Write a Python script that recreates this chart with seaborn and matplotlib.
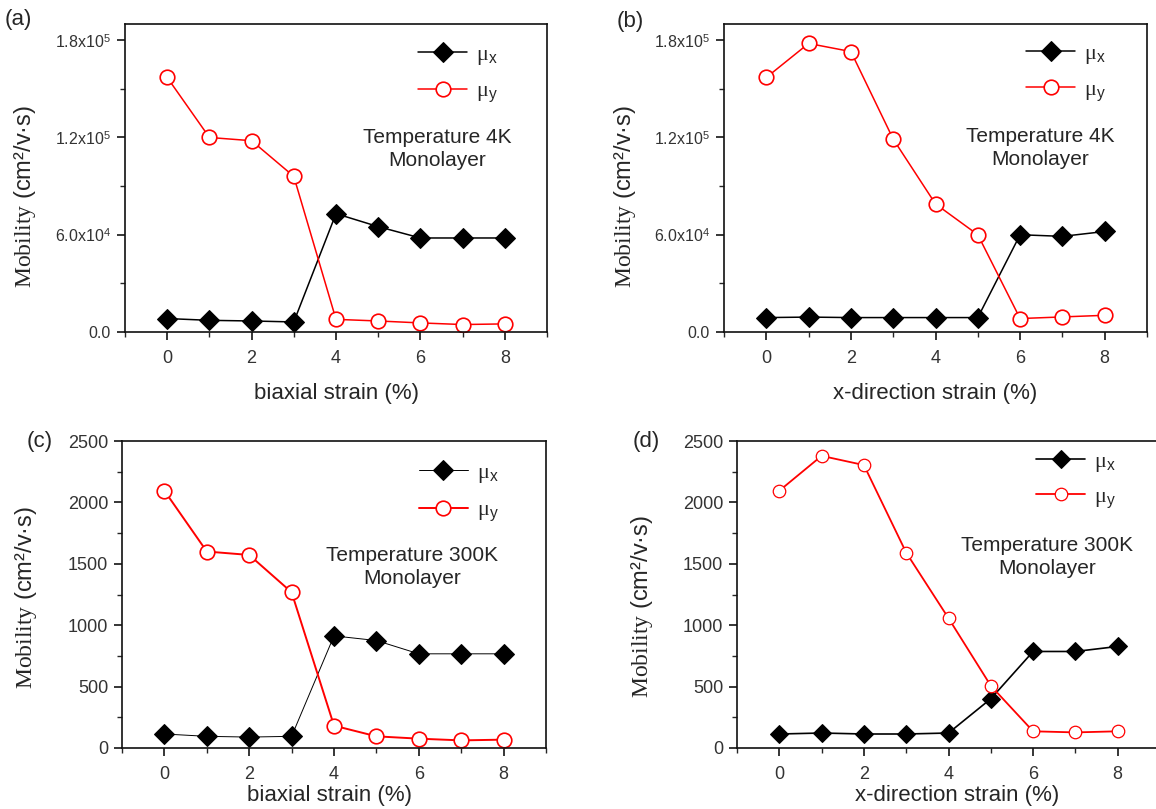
import numpy as np
import matplotlib
matplotlib.use("Agg")
import matplotlib.pyplot as plt
from matplotlib.ticker import MultipleLocator, FixedLocator, FixedFormatter
import seaborn as sns

# ---------------- data ----------------
strain = [0, 1, 2, 3, 4, 5, 6, 7, 8]

# (a) biaxial strain, 4K
a_mu_x = [8.3e3, 7.2e3, 6.8e3, 6.2e3, 7.3e4, 6.5e4, 5.8e4, 5.8e4, 5.8e4]
a_mu_y = [1.57e5, 1.20e5, 1.18e5, 9.6e4, 7.8e3, 6.8e3, 5.6e3, 4.6e3, 5.0e3]

# (b) x-direction strain, 4K
b_mu_x = [8.9e3, 9.2e3, 8.9e3, 8.9e3, 8.9e3, 8.9e3, 6.0e4, 5.9e4, 6.2e4]
b_mu_y = [1.57e5, 1.78e5, 1.73e5, 1.19e5, 7.9e4, 6.0e4, 8.3e3, 9.3e3, 1.03e4]

# (c) biaxial strain, 300K
c_mu_x = [114, 95, 89, 95, 913, 875, 767, 767, 767]
c_mu_y = [2095, 1600, 1572, 1268, 182, 95, 76, 62, 68]

# (d) x-direction strain, 300K
d_mu_x = [114, 122, 114, 114, 122, 401, 786, 786, 827]
d_mu_y = [2095, 2379, 2304, 1591, 1057, 507, 136, 127, 136]

panel_letters = ["(a)", "(b)", "(c)", "(d)"]
xlabels = ["biaxial strain (%)", "x-direction strain (%)",
           "biaxial strain (%)", "x-direction strain (%)"]
notes = ["Temperature 4K\nMonolayer", "Temperature 4K\nMonolayer",
         "Temperature 300K\nMonolayer", "Temperature 300K\nMonolayer"]
legend_labels = [r"$\mathrm{\mu}_{\mathsf{x}}$", r"$\mathrm{\mu}_{\mathsf{y}}$"]
ylabel = r"$\mathrm{Mobility}$ (cm²/v·s)"

sci_ticks = [0, 6e4, 1.2e5, 1.8e5]
sci_labels = ["0.0", r"6.0x10$^{\mathsf{4}}$", r"1.2x10$^{\mathsf{5}}$", r"1.8x10$^{\mathsf{5}}$"]

# ---------------- style ----------------
sns.set_style("ticks")
plt.rcParams["font.family"] = ["Liberation Sans", "DejaVu Sans"]
plt.rcParams["mathtext.fontset"] = "custom"
plt.rcParams["mathtext.rm"] = "Liberation Serif"
plt.rcParams["mathtext.sf"] = "Liberation Sans"
plt.rcParams["mathtext.it"] = "Liberation Serif:italic"

fig = plt.figure(figsize=(11.56, 8.09), dpi=100)

W, H = 1156, 809
def rect(l, r, t, b):
    return [l / W, 1 - b / H, (r - l) / W, (b - t) / H]

rects = [rect(125, 547, 24, 332), rect(724, 1147, 24, 332),
         rect(122, 546, 441, 748), rect(737, 1160, 441, 748)]

datasets = [(a_mu_x, a_mu_y), (b_mu_x, b_mu_y), (c_mu_x, c_mu_y), (d_mu_x, d_mu_y)]

# per-panel styling
ms_d = [10.5, 10.5, 10.5, 9.5]
ms_o = [10.5, 10.5, 10.5, 9]
lw_x = [1.1, 1.1, 0.7, 1.2]
lw_y = [1.1, 1.1, 1.4, 1.3]
mew_o = [1.2, 1.2, 1.2, 0.9]
note_pos = [(0.739, 0.594), (0.747, 0.597), (0.684, 0.589), (0.734, 0.622)]
leg_pos = [(0.695, 0.935), (0.715, 0.939), (0.70, 0.932), (0.707, 0.969)]
leg_spacing = [0.6, 0.6, 0.65, 0.55]
xlab_y = [-0.165, -0.165, -0.122, -0.12]
xlab_x = [0.5, 0.5, 0.49, 0.52]
ylab_pos = [(-0.206, 0.44), (-0.203, 0.44), (-0.196, 0.49), (-0.193, 0.46)]
letter_pos = [(5, 20), (617, 22), (27, 441), (633, 441)]

tick_color = "#333333"

for i in range(4):
    ax = fig.add_axes(rects[i])
    mx, my = datasets[i]
    sns.lineplot(x=strain, y=mx, ax=ax, color="black", marker="D",
                 markersize=ms_d[i], markerfacecolor="black", markeredgecolor="black",
                 lw=lw_x[i], label=legend_labels[0], legend=False, errorbar=None)
    sns.lineplot(x=strain, y=my, ax=ax, color="#ff0000", marker="o",
                 markersize=ms_o[i], markerfacecolor="white", markeredgecolor="#ff0000",
                 markeredgewidth=mew_o[i], lw=lw_y[i], label=legend_labels[1],
                 legend=False, errorbar=None)

    ax.set_xlim(-1, 9)
    ax.xaxis.set_major_locator(MultipleLocator(2))
    ax.xaxis.set_minor_locator(MultipleLocator(1))
    if i < 2:
        ax.set_ylim(0, 1.9e5)
        ax.yaxis.set_major_locator(FixedLocator(sci_ticks))
        ax.yaxis.set_major_formatter(FixedFormatter(sci_labels))
        ax.yaxis.set_minor_locator(FixedLocator([3e4, 9e4, 1.5e5]))
        ylab_fs = 11.5
    else:
        ax.set_ylim(0, 2500)
        ax.yaxis.set_major_locator(MultipleLocator(500))
        ax.yaxis.set_minor_locator(MultipleLocator(250))
        ylab_fs = 13

    ax.tick_params(axis="x", which="major", direction="out", length=6, width=1.1,
                   labelsize=13, pad=7, colors="black", labelcolor=tick_color,
                   top=False)
    ax.tick_params(axis="x", which="minor", direction="out", length=3.5, width=1.0,
                   top=False)
    ax.tick_params(axis="y", which="major", direction="out", length=6, width=1.1,
                   labelsize=ylab_fs, pad=4, colors="black", labelcolor=tick_color,
                   right=False)
    ax.tick_params(axis="y", which="minor", direction="out", length=3.5, width=1.0,
                   right=False)
    for sp in ax.spines.values():
        sp.set_visible(True)
        sp.set_linewidth(1.2)
        sp.set_color("#111111")

    ax.set_xlabel(xlabels[i], fontsize=16)
    ax.xaxis.set_label_coords(xlab_x[i], xlab_y[i])
    ax.set_ylabel(ylabel, fontsize=17)
    ax.yaxis.set_label_coords(*ylab_pos[i])

    ax.text(note_pos[i][0], note_pos[i][1], notes[i], transform=ax.transAxes,
            ha="center", va="center", fontsize=15, linespacing=1.25)

    ax.legend(loc="upper left", bbox_to_anchor=leg_pos[i], frameon=False,
              fontsize=16, handlelength=2.2, handletextpad=0.4,
              labelspacing=leg_spacing[i], borderaxespad=0, borderpad=0)

    fig.text(letter_pos[i][0] / W, 1 - letter_pos[i][1] / H, panel_letters[i],
             ha="left", va="center", fontsize=16)

fig.savefig("out.png", dpi=100)
